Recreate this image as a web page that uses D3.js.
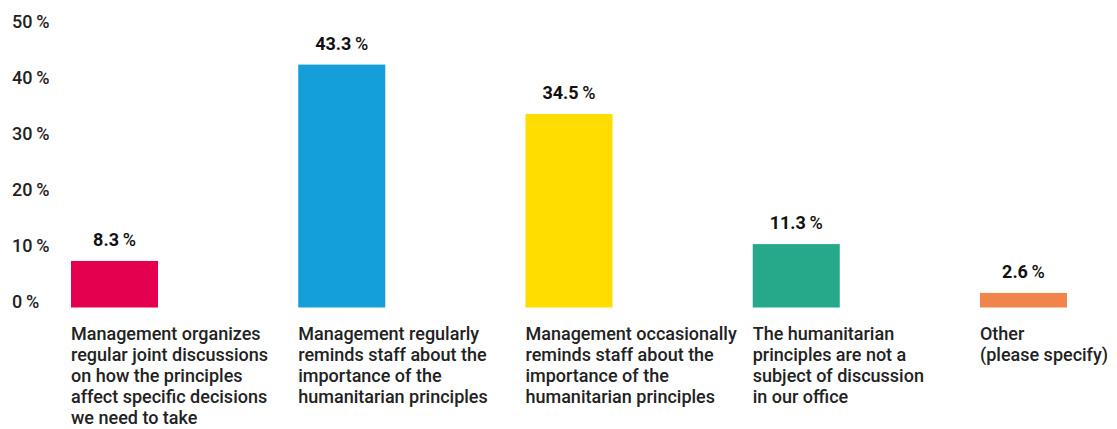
<!DOCTYPE html>
<html>
<head>
<meta charset="utf-8">
<script src="https://cdn.jsdelivr.net/npm/d3@7"></script>
<style>
  html, body { margin: 0; padding: 0; background: #fff; }
  svg { display: block; font-family: Roboto, "Noto Sans", sans-serif; }
</style>
</head>
<body>
<svg id="chart" width="1117" height="429"></svg>
<script>
// Survey answers: how humanitarian principles are discussed in the office
const categories = [
  ["Management organizes", "regular joint discussions", "on how the principles", "affect specific decisions", "we need to take"],
  ["Management regularly", "reminds staff about the", "importance of the", "humanitarian principles"],
  ["Management occasionally", "reminds staff about the", "importance of the", "humanitarian principles"],
  ["The humanitarian", "principles are not a", "subject of discussion", "in our office"],
  ["Other", "(please specify)"]
];
const values = [8.3, 43.3, 34.5, 11.3, 2.6];
const colors = ["#e4004f", "#149fdb", "#ffdd00", "#26a98a", "#f0844b"];
const yTicks = [0, 10, 20, 30, 40, 50];

const svg = d3.select("#chart");
const baseY = 307.5;
const topY = 27;

const y = d3.scaleLinear().domain([0, 50]).range([baseY, topY]);
const x = d3.scaleBand()
  .domain(d3.range(values.length))
  .range([71, 1067])
  .paddingInner(0.617)
  .paddingOuter(0);

// y axis labels (baseline sits on the tick value)
const yAxis = d3.axisLeft(y).tickValues(yTicks).tickSize(0).tickFormat(d => d + "\u2009%");
const gy = svg.append("g").attr("transform", "translate(12,0)").call(yAxis);
gy.select(".domain").remove();
gy.selectAll("text")
  .attr("x", 0)
  .attr("dy", 0)
  .attr("text-anchor", "start")
  .attr("fill", "#222")
  .style("font-size", "18px")
  .style("font-weight", 500)
  .style("font-family", "Roboto, sans-serif");

// bars
svg.append("g").selectAll("rect")
  .data(values)
  .join("rect")
  .attr("x", (d, i) => x(i))
  .attr("width", x.bandwidth())
  .attr("y", d => y(d))
  .attr("height", d => y(0) - y(d))
  .attr("fill", (d, i) => colors[i]);

// value labels
const vl = svg.append("g").selectAll("text")
  .data(values)
  .join("text")
  .attr("x", (d, i) => x(i) + x.bandwidth() / 2)
  .attr("y", d => y(d) - 15)
  .attr("text-anchor", "middle")
  .attr("fill", "#111")
  .style("font-size", "18px");
vl.append("tspan").style("font-weight", 700).text(d => d.toFixed(1));
vl.append("tspan").style("font-weight", 500).text("\u2009%");

// category labels, left-aligned with the bar
const cl = svg.append("g").selectAll("text")
  .data(categories)
  .join("text")
  .attr("x", (d, i) => x(i))
  .attr("y", 340)
  .attr("fill", "#222")
  .style("font-size", "18px")
  .style("font-weight", 500);
cl.selectAll("tspan")
  .data((d, i) => d.map(t => ({ t, i })))
  .join("tspan")
  .attr("x", d => x(d.i))
  .attr("dy", (d, j) => j === 0 ? 0 : 21)
  .text(d => d.t);
</script>
</body>
</html>
